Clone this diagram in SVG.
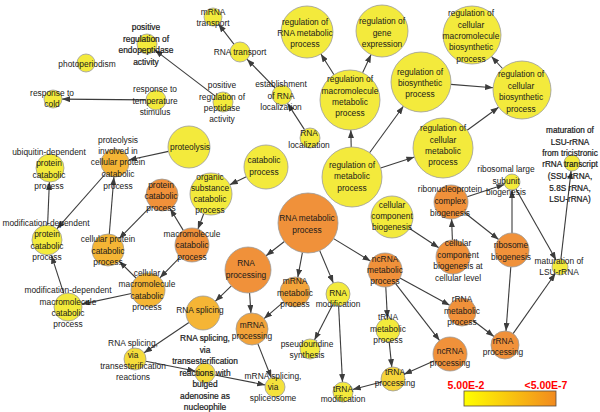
<svg xmlns="http://www.w3.org/2000/svg" width="600" height="412" viewBox="0 0 600 412">
<defs>
<marker id="ah" viewBox="0 0 8 6" refX="8" refY="3" markerWidth="8" markerHeight="6" markerUnits="userSpaceOnUse" orient="auto"><path d="M0,0 L8,3 L0,6 z" fill="#3c3c3c"/></marker>
<linearGradient id="lg" x1="0" y1="0" x2="1" y2="0"><stop offset="0" stop-color="#ffff00"/><stop offset="1" stop-color="#f28a1e"/></linearGradient>
</defs>
<style>
circle{stroke:#9a9a9a;stroke-width:0.8}
.y{fill:#f3ea3c}.o{fill:#f0913a}.lo{fill:#f5b535}.mo{fill:#f2a33a}.yo{fill:#f5d43a}
text{font-family:"Liberation Sans",Arial,sans-serif;font-size:8.4px;fill:#1a1a1a;text-anchor:middle}
.hv{stroke:#1a1a1a;stroke-width:0.22}
#edges line{stroke:#3c3c3c;stroke-width:1.1;marker-end:url(#ah)}
.lgt{font-size:10.5px;font-weight:bold;fill:#ff0000;stroke:none}
</style>
<rect width="600" height="412" fill="#ffffff"/>
<g id="edges">
<line x1="146" y1="99.9" x2="62" y2="99.1"/>
<line x1="215" y1="95.9" x2="155" y2="50.1"/>
<line x1="233.9" y1="44.1" x2="218.5" y2="24.1"/>
<line x1="275" y1="87.8" x2="247" y2="59.2"/>
<line x1="304.5" y1="129.6" x2="287.5" y2="103.4"/>
<line x1="334" y1="74.7" x2="320.9" y2="54"/>
<line x1="362.6" y1="72.8" x2="371.1" y2="54.6"/>
<line x1="351.2" y1="147" x2="350.8" y2="130"/>
<line x1="369.6" y1="152.7" x2="403.4" y2="106.3"/>
<line x1="450.9" y1="84.4" x2="493.1" y2="87.7"/>
<line x1="502.5" y1="68.5" x2="491.5" y2="56.5"/>
<line x1="467.2" y1="130.2" x2="498.6" y2="107.2"/>
<line x1="380.6" y1="167.9" x2="414.4" y2="157.1"/>
<line x1="467.2" y1="196.7" x2="504.4" y2="184.5"/>
<line x1="512" y1="233" x2="512" y2="190"/>
<line x1="464.4" y1="212.5" x2="498.6" y2="239.5"/>
<line x1="452.4" y1="240" x2="451.6" y2="219"/>
<line x1="409.6" y1="228.5" x2="438.8" y2="247.7"/>
<line x1="515.9" y1="189" x2="556.1" y2="260"/>
<line x1="560.9" y1="259.1" x2="571.1" y2="170.9"/>
<line x1="513.1" y1="333.6" x2="555.4" y2="273.5"/>
<line x1="510.8" y1="267" x2="506" y2="331"/>
<line x1="473.1" y1="320.5" x2="493.9" y2="336.5"/>
<line x1="399.9" y1="278.1" x2="449.7" y2="305.3"/>
<line x1="395.4" y1="283.4" x2="439.6" y2="340.6"/>
<line x1="385.8" y1="287" x2="387.4" y2="318"/>
<line x1="389.2" y1="341.9" x2="391.8" y2="367.1"/>
<line x1="434.4" y1="360.8" x2="404" y2="374.2"/>
<line x1="381.4" y1="382" x2="352.7" y2="389.5"/>
<line x1="338.6" y1="306" x2="342.5" y2="382"/>
<line x1="332.6" y1="304.7" x2="314.5" y2="340.1"/>
<line x1="319.7" y1="250.6" x2="333.3" y2="282.9"/>
<line x1="302.4" y1="252.5" x2="297.8" y2="277.3"/>
<line x1="284.4" y1="241.5" x2="266.1" y2="255.8"/>
<line x1="333.6" y1="238.6" x2="370.5" y2="261.1"/>
<line x1="231.4" y1="285.9" x2="215.3" y2="301.3"/>
<line x1="249.6" y1="293" x2="250.9" y2="313"/>
<line x1="283.6" y1="301.8" x2="264.1" y2="318.6"/>
<line x1="257.9" y1="343.9" x2="271.3" y2="377.7"/>
<line x1="188.9" y1="322.5" x2="144.1" y2="352.8"/>
<line x1="145.8" y1="361.2" x2="195.2" y2="371"/>
<line x1="214.8" y1="375" x2="265.2" y2="385"/>
<line x1="246.3" y1="176.7" x2="229.8" y2="184.8"/>
<line x1="203.7" y1="213.7" x2="197.9" y2="229.1"/>
<line x1="183.3" y1="230.4" x2="170.2" y2="208.7"/>
<line x1="180.1" y1="257.2" x2="159.9" y2="277.8"/>
<line x1="150.8" y1="206.4" x2="119.2" y2="238.6"/>
<line x1="136" y1="278" x2="119.3" y2="261.3"/>
<line x1="131.4" y1="293.5" x2="81.7" y2="304.1"/>
<line x1="63.8" y1="293.6" x2="51.5" y2="255.7"/>
<line x1="47.6" y1="225" x2="49.4" y2="182"/>
<line x1="105.7" y1="173.5" x2="56.9" y2="228.8"/>
<line x1="168.5" y1="151.4" x2="128.7" y2="160"/>
<line x1="109.3" y1="234" x2="113.9" y2="177"/>
</g>
<g id="n1"><circle class="y" cx="86" cy="63" r="9"/><text x="87" y="67">photoperiodism</text></g>
<g id="n2"><circle class="y" cx="147" cy="44" r="10"/><text class="hv"><tspan x="146" y="30">positive</tspan><tspan x="146" y="41.5">regulation of</tspan><tspan x="146" y="53">endopeptidase</tspan><tspan x="146" y="64.5">activity</tspan></text></g>
<g id="n3"><circle class="y" cx="53" cy="99" r="9"/><text><tspan x="52" y="96">response to</tspan><tspan x="52" y="107">cold</tspan></text></g>
<g id="n4"><circle class="y" cx="156" cy="100" r="10"/><text><tspan x="155" y="92">response to</tspan><tspan x="155" y="103.5">temperature</tspan><tspan x="155" y="115">stimulus</tspan></text></g>
<g id="n5"><circle class="y" cx="213" cy="17" r="9"/><text><tspan x="213" y="15">mRNA</tspan><tspan x="213" y="26">transport</tspan></text></g>
<g id="n6"><circle class="y" cx="240" cy="52" r="10"/><text x="240" y="55">RNA transport</text></g>
<g id="n7"><circle class="y" cx="223" cy="102" r="10"/><text><tspan x="222" y="88">positive</tspan><tspan x="222" y="99.5">regulation of</tspan><tspan x="222" y="110.5">peptidase</tspan><tspan x="222" y="121.5">activity</tspan></text></g>
<g id="n8"><circle class="y" cx="282" cy="95" r="10"/><text><tspan x="281" y="87">establishment</tspan><tspan x="281" y="98.5">of RNA</tspan><tspan x="281" y="110">localization</tspan></text></g>
<g id="n9"><circle class="y" cx="310" cy="138" r="10"/><text><tspan x="309" y="136">RNA</tspan><tspan x="309" y="148">localization</tspan></text></g>
<g id="n10"><circle class="y" cx="307" cy="32" r="26"/><text><tspan x="305" y="25">regulation of</tspan><tspan x="305" y="36">RNA metabolic</tspan><tspan x="305" y="47">process</tspan></text></g>
<g id="n11"><circle class="y" cx="382" cy="31" r="26"/><text><tspan x="382" y="24">regulation of</tspan><tspan x="382" y="35.5">gene</tspan><tspan x="382" y="46.5">expression</tspan></text></g>
<g id="n12"><circle class="y" cx="350" cy="100" r="30"/><text><tspan x="350" y="82">regulation of</tspan><tspan x="350" y="93.5">macromolecule</tspan><tspan x="350" y="105">metabolic</tspan><tspan x="350" y="116">process</tspan></text></g>
<g id="n13"><circle class="y" cx="472" cy="35" r="29"/><text><tspan x="471" y="16">regulation of</tspan><tspan x="471" y="27.5">cellular</tspan><tspan x="471" y="39">macromolecule</tspan><tspan x="471" y="50">biosynthetic</tspan><tspan x="471" y="61.5">process</tspan></text></g>
<g id="n14"><circle class="y" cx="421" cy="82" r="30"/><text><tspan x="420" y="75">regulation of</tspan><tspan x="420" y="86">biosynthetic</tspan><tspan x="420" y="97">process</tspan></text></g>
<g id="n15"><circle class="y" cx="522" cy="90" r="29"/><text><tspan x="521" y="77">regulation of</tspan><tspan x="521" y="88.5">cellular</tspan><tspan x="521" y="100">biosynthetic</tspan><tspan x="521" y="111.5">process</tspan></text></g>
<g id="n16"><circle class="y" cx="443" cy="148" r="30"/><text><tspan x="443" y="131">regulation of</tspan><tspan x="443" y="142.5">cellular</tspan><tspan x="443" y="153.5">metabolic</tspan><tspan x="443" y="165">process</tspan></text></g>
<g id="n17"><circle class="y" cx="352" cy="177" r="30"/><text><tspan x="352" y="167.5">regulation of</tspan><tspan x="352" y="179">metabolic</tspan><tspan x="352" y="190.5">process</tspan></text></g>
<g id="n18"><circle class="y" cx="572" cy="163" r="8"/><text class="hv" style="font-size:8.2px"><tspan x="570" y="133">maturation of</tspan><tspan x="570" y="144.5">LSU-rRNA</tspan><tspan x="570" y="155.5">from tricistronic</tspan><tspan x="570" y="167">rRNA transcript</tspan><tspan x="570" y="179">(SSU-rRNA,</tspan><tspan x="570" y="190.5">5.8S rRNA,</tspan><tspan x="570" y="201.5">LSU-rRNA)</tspan></text></g>
<g id="n19"><circle class="y" cx="512" cy="182" r="8"/><text><tspan x="506" y="172">ribosomal large</tspan><tspan x="506" y="184">subunit</tspan><tspan x="506" y="195">biogenesis</tspan></text></g>
<g id="n20"><circle class="o" cx="451" cy="202" r="17"/><text><tspan x="450" y="192">ribonucleoprotein</tspan><tspan x="450" y="204">complex</tspan><tspan x="450" y="216">biogenesis</tspan></text></g>
<g id="n21"><circle class="o" cx="512" cy="250" r="17"/><text><tspan x="511" y="248">ribosome</tspan><tspan x="511" y="260">biogenesis</tspan></text></g>
<g id="n22"><circle class="o" cx="453" cy="257" r="17"/><text><tspan x="458" y="246">cellular</tspan><tspan x="458" y="258">component</tspan><tspan x="458" y="269">biogenesis at</tspan><tspan x="458" y="280.5">cellular level</tspan></text></g>
<g id="n23"><circle class="y" cx="560" cy="267" r="8"/><text><tspan x="559" y="264">maturation of</tspan><tspan x="559" y="275">LSU-rRNA</tspan></text></g>
<g id="n24"><circle class="y" cx="266" cy="167" r="22"/><text><tspan x="264" y="163">catabolic</tspan><tspan x="264" y="175">process</tspan></text></g>
<g id="n25"><circle class="y" cx="211" cy="194" r="21"/><text><tspan x="210" y="180">organic</tspan><tspan x="210" y="191">substance</tspan><tspan x="210" y="201.5">catabolic</tspan><tspan x="210" y="212.5">process</tspan></text></g>
<g id="n26"><circle class="y" cx="189" cy="147" r="21"/><text x="190" y="150">proteolysis</text></g>
<g id="n27"><circle class="y" cx="50" cy="168" r="14"/><text><tspan x="49" y="155">ubiquitin-dependent</tspan><tspan x="49" y="166">protein</tspan><tspan x="49" y="177.5">catabolic</tspan><tspan x="49" y="189">process</tspan></text></g>
<g id="n28"><circle class="lo" cx="115" cy="163" r="14"/><text><tspan x="118" y="143">proteolysis</tspan><tspan x="118" y="154">involved in</tspan><tspan x="118" y="165">cellular protein</tspan><tspan x="118" y="177">catabolic</tspan><tspan x="118" y="188.5">process</tspan></text></g>
<g id="n29"><circle class="y" cx="47" cy="240" r="15"/><text><tspan x="46" y="226">modification-dependent</tspan><tspan x="47" y="237">protein</tspan><tspan x="47" y="248.5">catabolic</tspan><tspan x="47" y="260">process</tspan></text></g>
<g id="n30"><circle class="lo" cx="108" cy="250" r="16"/><text><tspan x="108" y="242">cellular protein</tspan><tspan x="108" y="253.5">catabolic</tspan><tspan x="108" y="265">process</tspan></text></g>
<g id="n31"><circle class="o" cx="162" cy="195" r="16"/><text><tspan x="161" y="188">protein</tspan><tspan x="161" y="199">catabolic</tspan><tspan x="161" y="210.5">process</tspan></text></g>
<g id="n32"><circle class="o" cx="192" cy="245" r="17"/><text><tspan x="192" y="237">macromolecule</tspan><tspan x="192" y="248">catabolic</tspan><tspan x="192" y="259.5">process</tspan></text></g>
<g id="n33"><circle class="lo" cx="148" cy="290" r="17"/><text><tspan x="147" y="276">cellular</tspan><tspan x="147" y="287">macromolecule</tspan><tspan x="147" y="298.5">catabolic</tspan><tspan x="147" y="310">process</tspan></text></g>
<g id="n34"><circle class="y" cx="68" cy="307" r="14"/><text><tspan x="68" y="293">modification-dependent</tspan><tspan x="68" y="304.5">macromolecule</tspan><tspan x="68" y="316">catabolic</tspan><tspan x="68" y="327">process</tspan></text></g>
<g id="n35"><circle class="o" cx="308" cy="223" r="30"/><text><tspan x="307" y="221">RNA metabolic</tspan><tspan x="307" y="233">process</tspan></text></g>
<g id="n36"><circle class="y" cx="392" cy="217" r="21"/><text><tspan x="392" y="208">cellular</tspan><tspan x="392" y="219">component</tspan><tspan x="392" y="230">biogenesis</tspan></text></g>
<g id="n37"><circle class="o" cx="385" cy="270" r="17"/><text><tspan x="385" y="262">ncRNA</tspan><tspan x="385" y="273">metabolic</tspan><tspan x="385" y="284">process</tspan></text></g>
<g id="n38"><circle class="o" cx="248" cy="270" r="23"/><text><tspan x="246" y="266">RNA</tspan><tspan x="246" y="278">processing</tspan></text></g>
<g id="n39"><circle class="lo" cx="203" cy="313" r="17"/><text x="200" y="313">RNA splicing</text></g>
<g id="n40"><circle class="mo" cx="252" cy="329" r="16"/><text><tspan x="252" y="328">mRNA</tspan><tspan x="252" y="339">processing</tspan></text></g>
<g id="n41"><circle class="mo" cx="295" cy="292" r="15"/><text><tspan x="295" y="283.5">mRNA</tspan><tspan x="295" y="295.5">metabolic</tspan><tspan x="295" y="307">process</tspan></text></g>
<g id="n42"><circle class="y" cx="338" cy="294" r="12"/><text><tspan x="338" y="296">RNA</tspan><tspan x="338" y="307">modification</tspan></text></g>
<g id="n43"><circle class="y" cx="310" cy="349" r="10"/><text><tspan x="307" y="347">pseudouridine</tspan><tspan x="307" y="357.5">synthesis</tspan></text></g>
<g id="n44"><circle class="y" cx="343" cy="392" r="10"/><text><tspan x="343" y="391.5">tRNA</tspan><tspan x="343" y="402">modification</tspan></text></g>
<g id="n45"><circle class="yo" cx="393" cy="379" r="12"/><text><tspan x="395" y="375">tRNA</tspan><tspan x="395" y="386">processing</tspan></text></g>
<g id="n46"><circle class="y" cx="388" cy="330" r="12"/><text><tspan x="388" y="320">tRNA</tspan><tspan x="388" y="331.5">metabolic</tspan><tspan x="388" y="343">process</tspan></text></g>
<g id="n47"><circle class="o" cx="450" cy="354" r="17"/><text><tspan x="450" y="354">ncRNA</tspan><tspan x="450" y="366">processing</tspan></text></g>
<g id="n48"><circle class="o" cx="462" cy="312" r="14"/><text><tspan x="462" y="302">rRNA</tspan><tspan x="462" y="313.5">metabolic</tspan><tspan x="462" y="325">process</tspan></text></g>
<g id="n49"><circle class="o" cx="505" cy="345" r="14"/><text><tspan x="503" y="344">rRNA</tspan><tspan x="503" y="355">processing</tspan></text></g>
<g id="n50"><circle style="fill:#f5dc3a" cx="135" cy="359" r="11"/><text><tspan x="133" y="346">RNA splicing,</tspan><tspan x="133" y="357.5">via</tspan><tspan x="133" y="369">transesterification</tspan><tspan x="133" y="380">reactions</tspan></text></g>
<g id="n51"><circle style="fill:#f5d83a" cx="205" cy="373" r="10"/><text class="hv"><tspan x="205" y="341">RNA splicing,</tspan><tspan x="205" y="352.5">via</tspan><tspan x="205" y="364">transesterification</tspan><tspan x="205" y="375.5">reactions with</tspan><tspan x="205" y="387">bulged</tspan><tspan x="205" y="398.5">adenosine as</tspan><tspan x="205" y="410">nucleophile</tspan></text></g>
<g id="n52"><circle style="fill:#f4e23c" cx="275" cy="387" r="10"/><text><tspan x="273" y="379">mRNA splicing,</tspan><tspan x="273" y="390">via</tspan><tspan x="273" y="401">spliceosome</tspan></text></g>
<g id="legend">
<text class="lgt" x="466" y="389">5.00E-2</text>
<text class="lgt" x="546" y="389">&lt;5.00E-7</text>
<rect x="464" y="391" width="92" height="15" fill="url(#lg)" stroke="#5a4a3a" stroke-width="0.8"/>
</g>
</svg>
